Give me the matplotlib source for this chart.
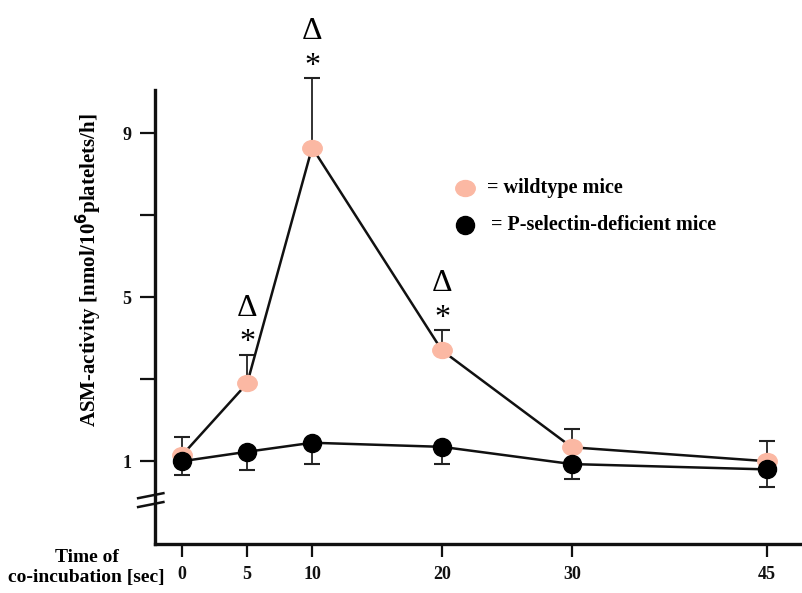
import matplotlib.pyplot as plt
import numpy as np
from matplotlib.path import Path
from matplotlib.transforms import Affine2D

# time of co-incubation [sec]
time_sec = [0, 5, 10, 20, 30, 45]

# ASM activity [nmol/10^6 platelets/h], mean and SD
wildtype = [1.15, 2.9, 8.65, 3.7, 1.34, 1.0]
wildtype_err = [0.44, 0.7, 1.7, 0.5, 0.45, 0.49]
pselectin = [1.0, 1.23, 1.45, 1.35, 0.93, 0.8]
pselectin_err = [0.34, 0.45, 0.51, 0.43, 0.37, 0.43]

# significance marks above the wildtype points
marked_times = [5, 10, 20]

y_ticks = [1, 3, 5, 7, 9]
y_ticklabels = ["1", "", "5", "", "9"]

pink = "#fbb8a3"
serif = "Liberation Serif"
# slightly flattened dot for the wildtype series
oval = Path.unit_circle().transformed(Affine2D().scale(1.0, 0.82))

fig = plt.figure(figsize=(8.03, 5.93), dpi=100)
ax = fig.add_axes([0.193, 0.0826, 0.807, 0.7654])

# wildtype: error bars pointing up only
eb = ax.errorbar(time_sec, wildtype, yerr=[np.zeros(len(wildtype)), wildtype_err],
                 fmt="none", ecolor="#222222", elinewidth=1.3, capsize=5.5, capthick=1.5, zorder=2)
for art in eb.lines[1] + eb.lines[2]:
    art.set_clip_on(False)
ax.plot(time_sec, wildtype, color="#111111", lw=1.8, zorder=3)
ax.plot(time_sec, wildtype, ls="none", marker=oval, color=pink, ms=14, mec=pink, zorder=4)

# P-selectin deficient: error bars pointing down only
ax.errorbar(time_sec, pselectin, yerr=[pselectin_err, np.zeros(len(pselectin))],
            fmt="none", ecolor="#222222", elinewidth=1.3, capsize=5.5, capthick=1.5, zorder=2)
ax.plot(time_sec, pselectin, color="#111111", lw=1.8, zorder=5)
ax.plot(time_sec, pselectin, "o", color="black", ms=13, zorder=6)

# delta and asterisk above the significant points
for t in marked_times:
    i = time_sec.index(t)
    top = wildtype[i] + wildtype_err[i]
    ax.annotate("*", (t, top), xytext=(0, -2), textcoords="offset points",
                ha="center", va="bottom", fontsize=23, family=serif, annotation_clip=False)
    ax.annotate("Δ", (t, top), xytext=(0, 23), textcoords="offset points",
                ha="center", va="bottom", fontsize=23, family=serif, annotation_clip=False)

ax.set_xlim(-2.1, 47.8)
ax.set_ylim(-1.02, 10.05)
ax.set_xticks(time_sec)
ax.set_xticklabels([str(t) for t in time_sec])
ax.set_yticks(y_ticks)
ax.set_yticklabels(y_ticklabels)

for side in ["top", "right"]:
    ax.spines[side].set_visible(False)
for side in ["left", "bottom"]:
    ax.spines[side].set_linewidth(2.4)
    ax.spines[side].set_color("#111111")

ax.tick_params(axis="y", length=11, width=1.6, pad=6, colors="#111111")
ax.tick_params(axis="x", length=9, width=1.6, pad=7, colors="#111111")
for lab in ax.get_xticklabels() + ax.get_yticklabels():
    lab.set_family(serif)
    lab.set_fontweight("bold")
    lab.set_fontsize(13)

ax.set_ylabel("ASM-activity [nmol/10$^{\\mathbf{6}}$platelets/h]", family=serif,
              fontweight="bold", fontsize=15)
ax.yaxis.set_label_coords(-0.078, 0.603)

# axis break marks on the y spine
for y0 in [0.101, 0.0815]:
    ax.plot([-0.026, 0.013], [y0, y0 + 0.011], transform=ax.transAxes,
            color="#111111", lw=1.8, clip_on=False)

fig.text(0.108, 0.043, "Time of\nco-incubation [sec]", ha="center", va="center",
         family=serif, fontweight="bold", fontsize=14, linespacing=1.25)

# legend drawn as markers with text
fig.lines.append(plt.Line2D([465 / 803], [1 - 188 / 593], transform=fig.transFigure,
                            marker=oval, color=pink, ms=14, ls="none"))
fig.lines.append(plt.Line2D([465 / 803], [1 - 225 / 593], transform=fig.transFigure,
                            marker="o", color="black", ms=13, ls="none"))
fig.text(487 / 803, 1 - 188 / 593, "= wildtype mice", ha="left", va="center",
         family=serif, fontweight="bold", fontsize=14.5)
fig.text(491 / 803, 1 - 225 / 593, "= P-selectin-deficient mice", ha="left", va="center",
         family=serif, fontweight="bold", fontsize=14.5)

fig.savefig("out.png", dpi=100)
